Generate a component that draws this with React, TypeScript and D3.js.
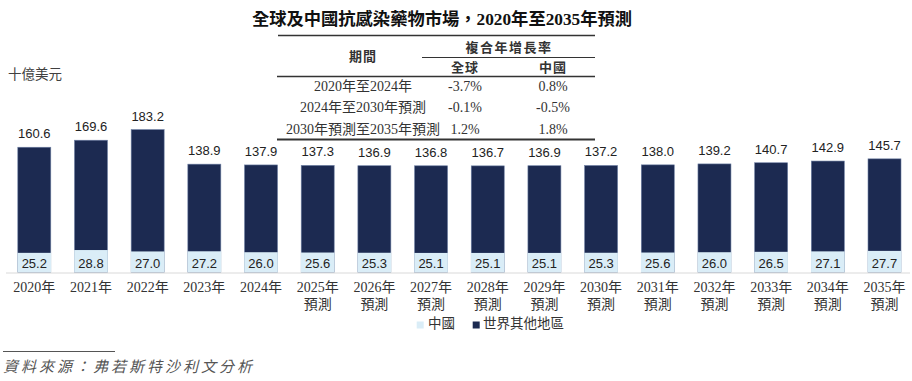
import React from 'react';
import * as d3 from 'd3';

const years = ['2020年','2021年','2022年','2023年','2024年','2025年','2026年','2027年','2028年','2029年','2030年','2031年','2032年','2033年','2034年','2035年'];
const forecastFlags = [false,false,false,false,false,true,true,true,true,true,true,true,true,true,true,true];
const restOfWorld = [160.6,169.6,183.2,138.9,137.9,137.3,136.9,136.8,136.7,136.9,137.2,138.0,139.2,140.7,142.9,145.7];
const china = [25.2,28.8,27.0,27.2,26.0,25.6,25.3,25.1,25.1,25.1,25.3,25.6,26.0,26.5,27.1,27.7];

const cagrPeriods = ['2020年至2024年','2024年至2030年預測','2030年預測至2035年預測'];
const cagrGlobal = ['-3.7%','-0.1%','1.2%'];
const cagrChina = ['0.8%','-0.5%','1.8%'];

const legendLabels = ['中國','世界其他地區'];

const W = 912, H = 381;
const NAVY = '#1c2a51';
const LIGHT = '#daedf7';
const SERIF = '"Liberation Serif", "Times New Roman", "Noto Sans CJK TC", serif';
const SANS = '"Liberation Sans", Arial, "Noto Sans CJK TC", sans-serif';
const CJK = '"Noto Sans CJK TC", sans-serif';

export default function App() {
  const axisY = 272.5;
  const x = d3.scaleBand<string>().domain(years).range([5.96, 912.84]).paddingInner(0.418).paddingOuter(0.209);
  const y = d3.scaleLinear().domain([0, 200]).range([axisY, axisY - 156]);
  const bw = x.bandwidth();

  const tCol = [363, 465, 553];
  const rowY = [91, 112, 134];

  return (
    <svg width={W} height={H} style={{ position: 'absolute', left: 0, top: 0, background: '#fff' }}>
      {/* Title */}
      <text x={442} y={25} textAnchor="middle" fontFamily={SERIF} fontWeight="bold" fontSize={17.3} fill="#111">
        全球及中國抗感染藥物市場，2020年至2035年預測
      </text>

      {/* CAGR table */}
      <g fontFamily={SERIF} fill="#333">
        <line x1={278} x2={595} y1={35.5} y2={35.5} stroke="#333" strokeWidth={1.5} />
        <text x={tCol[0]} y={61} textAnchor="middle" fontWeight="bold" fontSize={13} letterSpacing={1}>期間</text>
        <text x={509} y={52} textAnchor="middle" fontWeight="bold" fontSize={13} letterSpacing={1.5}>複合年增長率</text>
        <line x1={422} x2={595} y1={57.5} y2={57.5} stroke="#333" strokeWidth={1} />
        <text x={tCol[1]} y={72} textAnchor="middle" fontWeight="bold" fontSize={13} letterSpacing={1}>全球</text>
        <text x={tCol[2]} y={72} textAnchor="middle" fontWeight="bold" fontSize={13} letterSpacing={1}>中國</text>
        <line x1={277} x2={595} y1={76.5} y2={76.5} stroke="#333" strokeWidth={1.5} />
        {cagrPeriods.map((p, i) => (
          <g key={p} fontSize={14}>
            <text x={tCol[0]} y={rowY[i]} textAnchor="middle">{p}</text>
            <text x={tCol[1]} y={rowY[i]} textAnchor="middle">{cagrGlobal[i]}</text>
            <text x={tCol[2]} y={rowY[i]} textAnchor="middle">{cagrChina[i]}</text>
          </g>
        ))}
        <line x1={277} x2={595} y1={139.5} y2={139.5} stroke="#333" strokeWidth={2} />
      </g>

      {/* unit */}
      <text x={8} y={79} fontFamily={CJK} fontSize={13.5} fill="#404040">十億美元</text>

      {/* bars */}
      {years.map((yr, i) => {
        const x0 = x(yr)!;
        const cx = x0 + bw / 2;
        return (
          <g key={yr}>
            <rect x={x0} y={y(restOfWorld[i])} width={bw} height={axisY - y(restOfWorld[i])} fill={NAVY} stroke="#6d7fa3" strokeWidth={0.6} />
            <rect x={x0 - 0.3} y={y(china[i])} width={bw + 0.6} height={axisY - y(china[i])} fill={LIGHT} />
            <text x={cx} y={y(restOfWorld[i]) - 9} textAnchor="middle" fontFamily={SANS} fontSize={13} fill="#222">
              {restOfWorld[i].toFixed(1)}
            </text>
            <text x={cx} y={268.3} textAnchor="middle" fontFamily={SANS} fontSize={13} fill="#222">
              {china[i].toFixed(1)}
            </text>
            <text x={cx} y={292} textAnchor="middle" fontFamily={SERIF} fontSize={14} fill="#333">{yr}</text>
            {forecastFlags[i] && (
              <text x={cx} y={309} textAnchor="middle" fontFamily={SERIF} fontSize={14} fill="#333">預測</text>
            )}
          </g>
        );
      })}
      <line x1={6} x2={910} y1={axisY + 0.5} y2={axisY + 0.5} stroke="#d9d9d9" strokeWidth={1} />

      {/* legend */}
      <g fontFamily={SERIF} fontSize={13.5} fill="#333">
        <rect x={416.7} y={321.5} width={7} height={7} fill={LIGHT} />
        <text x={428} y={327.5}>{legendLabels[0]}</text>
        <rect x={472.7} y={321.5} width={7} height={7} fill={NAVY} />
        <text x={483} y={327.5}>{legendLabels[1]}</text>
      </g>

      {/* source */}
      <line x1={3} x2={115} y1={351.5} y2={351.5} stroke="#555" strokeWidth={1} />
      <text x={3} y={372} fontFamily={CJK} fontStyle="italic" fontSize={15} letterSpacing={3} fill="#555">
        資料來源：弗若斯特沙利文分析
      </text>
    </svg>
  );
}
